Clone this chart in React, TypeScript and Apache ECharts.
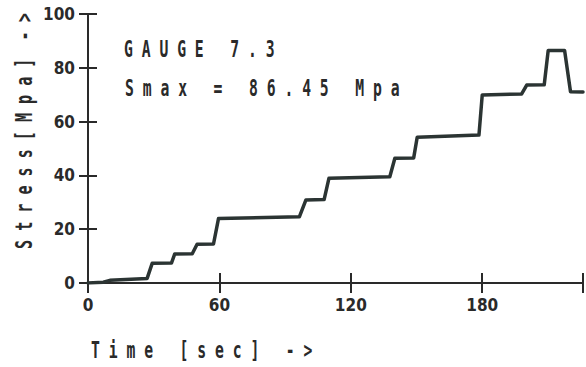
import React, { useEffect, useRef } from "react";
import * as echarts from "echarts";

const timeSec = [0, 7, 10, 27, 29.3, 38.1, 39.6, 47.6, 49.8, 57.3, 59.6, 96.5, 99.5, 107.8, 110, 137.8, 140.1, 148.7, 150.3, 178.5, 180, 198, 200.3, 208.3, 210.1, 217.6, 220.3, 226];
const stressMpa = [0, 0.3, 1, 1.7, 7.3, 7.4, 10.8, 10.9, 14.4, 14.5, 24.0, 24.6, 30.9, 31.0, 38.9, 39.5, 46.4, 46.5, 54.2, 55.0, 69.9, 70.3, 73.6, 73.7, 86.4, 86.4, 71.1, 71.0];
const xTicks = [0, 60, 120, 180];
const yTicks = [0, 20, 40, 60, 80, 100];
const titleLine1 = "G A U G E   7 . 3";
const titleLine2 = "S m a x   =   8 6 . 4 5   M p a";
const xName = "T i m e   [ s e c ]   - >";
const yName = "S t r e s s [ M p a ]  - >";

const INK = "#2a2a2a";
const MONO = "'DejaVu Sans Mono', 'Liberation Mono', monospace";
const NARROW = "'Liberation Sans Narrow', 'DejaVu Sans Condensed', 'Roboto', sans-serif";

export default function App() {
  const ref = useRef<HTMLDivElement>(null);
  useEffect(() => {
    if (!ref.current) return;
    const chart = echarts.init(ref.current, undefined, { renderer: "svg" });
    const data = timeSec.map((t, i) => [t, stressMpa[i]]);
    const axisLine = { show: true, lineStyle: { color: INK, width: 2 } };
    const tick = (len: number) => ({ show: true, inside: true, length: len, lineStyle: { color: INK, width: 2 } });
    const labelStyle = { color: INK, fontFamily: NARROW, fontWeight: "bold" as const, fontSize: 17 };
    const textEl = (text: string, x: number, y: number, rotation = 0, scaleX = 0.64) => ({
      type: "text",
      x,
      y,
      rotation,
      scaleX,
      silent: true,
      style: {
        text,
        x: 0,
        y: 0,
        fill: INK,
        font: `bold 23px ${MONO}`,
        align: "left",
        verticalAlign: "middle",
      },
    });
    chart.setOption({
      animation: false,
      backgroundColor: "#ffffff",
      grid: { left: 88, top: 14, right: -3, bottom: 84, containLabel: false },
      xAxis: [
        {
          type: "value",
          position: "bottom",
          min: 0,
          max: 226,
          interval: 60,
          axisLine,
          axisTick: tick(10),
          splitLine: { show: false },
          axisLabel: {
            ...labelStyle,
            margin: 13,
            formatter: (v: number) => (xTicks.includes(v) ? String(v) : ""),
          },
        },
        {
          type: "value",
          position: "top",
          min: 0,
          max: 226,
          interval: 60,
          axisLine,
          axisTick: tick(10),
          splitLine: { show: false },
          axisLabel: { show: false },
        },
      ],
      yAxis: [
        {
          type: "value",
          position: "left",
          min: 0,
          max: 100,
          interval: 20,
          axisLine,
          axisTick: tick(9),
          splitLine: { show: false },
          axisLabel: {
            ...labelStyle,
            margin: 13,
            formatter: (v: number) => (yTicks.includes(v) ? String(v) : ""),
          },
        },
        {
          type: "value",
          position: "right",
          min: 0,
          max: 100,
          interval: 20,
          axisLine,
          axisTick: tick(9),
          splitLine: { show: false },
          axisLabel: { show: false },
        },
      ],
      series: [
        {
          type: "line",
          data,
          xAxisIndex: 0,
          yAxisIndex: 0,
          showSymbol: false,
          smooth: false,
          lineStyle: { color: "#2b3433", width: 3.5, join: "round", cap: "round" },
        },
      ],
      graphic: [
        textEl(titleLine1, 124, 49),
        textEl(titleLine2, 125, 88),
        textEl(xName, 91, 350),
        textEl(yName, 24, 249, Math.PI / 2, 0.655),
      ],
    });
    return () => chart.dispose();
  }, []);
  return (
    <div
      ref={ref}
      style={{ position: "fixed", left: 0, top: 0, width: 586, height: 367, background: "#fff" }}
    />
  );
}
